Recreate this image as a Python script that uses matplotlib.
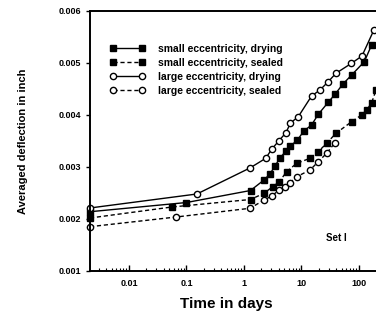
import matplotlib
matplotlib.use("Agg")
import matplotlib.pyplot as plt
from matplotlib.ticker import FixedLocator, FixedFormatter, LogLocator, NullFormatter

# --- data (time in days, deflection in inch) ---
t_small_dry = [0.0021, 0.100, 1.30, 2.23, 2.83, 3.46, 4.23, 5.38, 6.44, 8.51,
               11.0, 15.0, 19.6, 29.2, 38.3, 52.7, 74.6, 124, 166]
d_small_dry = [0.002140, 0.002317, 0.002548, 0.002750, 0.002865, 0.003019,
               0.003173, 0.003308, 0.003404, 0.003519, 0.003692, 0.003808,
               0.004013, 0.004244, 0.004398, 0.004596, 0.004769, 0.005025,
               0.005346]

t_small_seal = [0.0021, 0.056, 1.30, 2.23, 3.16, 4.11, 5.53, 8.26, 14.1, 19.6,
                27.4, 39.8, 74.6, 111, 136, 166, 198]
d_small_seal = [0.002019, 0.002231, 0.002375, 0.002494, 0.002621, 0.002717,
                0.002910, 0.003071, 0.003167, 0.003294, 0.003456, 0.003648,
                0.003871, 0.004000, 0.004096, 0.004231, 0.004481]

t_large_dry = [0.0021, 0.152, 1.27, 2.39, 3.03, 4.06, 5.38, 6.44, 8.80, 15.0,
               21.0, 28.9, 39.8, 74.1, 113, 182]
d_large_dry = [0.002212, 0.002481, 0.002981, 0.003167, 0.003340, 0.003506,
               0.003660, 0.003846, 0.003967, 0.004365, 0.004481, 0.004635,
               0.004802, 0.004994, 0.005135, 0.005635]

t_large_seal = [0.0021, 0.0657, 1.27, 2.25, 3.03, 4.11, 5.17, 6.31, 8.26, 14.1,
                19.6, 27.4, 38.3]
d_large_seal = [0.001852, 0.002038, 0.002206, 0.002365, 0.002442, 0.002558,
                0.002621, 0.002698, 0.002813, 0.002942, 0.003102, 0.003263,
                0.003467]

labels = ["small eccentricity, drying", "small eccentricity, sealed",
          "large eccentricity, drying", "large eccentricity, sealed"]
x_ticks = [0.01, 0.1, 1, 10, 100]
x_ticklabels = ["0.01", "0.1", "1", "10", "100"]
y_ticks = [0.001, 0.002, 0.003, 0.004, 0.005, 0.006]

plt.rcParams['font.family'] = ['Liberation Sans', 'DejaVu Sans']
plt.rcParams['font.weight'] = 'bold'

fig = plt.figure(figsize=(3.76, 3.23), dpi=100)
ax = fig.add_axes([90 / 376, 1 - 271 / 323, 286 / 376, 260 / 323])

sq = dict(marker='s', markersize=4, color='black', markerfacecolor='black',
          linewidth=1.0, clip_on=False)
ci = dict(marker='o', markersize=4.5, color='black', markerfacecolor='white',
          markeredgewidth=1.0, linewidth=1.0, clip_on=False)

ax.plot(t_small_dry, d_small_dry, linestyle='-', label=labels[0], **sq)
ax.plot(t_small_seal, d_small_seal, linestyle=(0, (3, 2)), label=labels[1], **sq)
ax.plot(t_large_dry, d_large_dry, linestyle='-', label=labels[2], **ci)
ax.plot(t_large_seal, d_large_seal, linestyle=(0, (3, 2)), label=labels[3], **ci)

ax.set_xscale('log')
ax.set_xlim(0.0021, 198)
ax.set_ylim(0.001, 0.006)

ax.xaxis.set_major_locator(FixedLocator(x_ticks))
ax.xaxis.set_major_formatter(FixedFormatter(x_ticklabels))
ax.xaxis.set_minor_locator(LogLocator(base=10, subs=range(2, 10)))
ax.xaxis.set_minor_formatter(NullFormatter())
ax.set_yticks(y_ticks)
ax.set_yticklabels([f"{v:.3f}" for v in y_ticks])

ax.tick_params(axis='x', which='major', direction='in', length=4, width=1,
               labelsize=6.5, pad=6)
ax.tick_params(axis='x', which='minor', direction='in', length=2, width=0.8)
ax.tick_params(axis='y', direction='out', length=3, width=1, labelsize=6.5)

for side in ['left', 'bottom', 'top']:
    ax.spines[side].set_linewidth(1.4)
ax.spines['right'].set_visible(False)

ax.set_ylabel("Averaged deflection in inch", fontsize=8, fontweight='bold')
ax.yaxis.set_label_coords(-0.218, 0.5)
ax.set_xlabel("Time in days", fontsize=11, fontweight='bold')
ax.xaxis.set_label_coords(0.476, -0.1)

ax.legend(loc='upper left', bbox_to_anchor=(20 / 286, 0.875), frameon=False,
          fontsize=7.5, handlelength=3.4, handletextpad=1.25, labelspacing=0.4,
          numpoints=2, borderaxespad=0, borderpad=0)

ax.text(0.86, 0.127, "Set I", transform=ax.transAxes, fontsize=7,
        fontweight='bold', ha='center', va='center')

fig.savefig("out.png", dpi=100)
